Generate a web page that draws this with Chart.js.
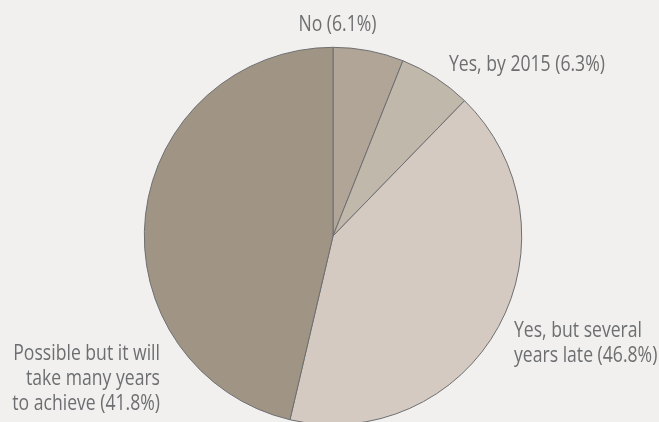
<!DOCTYPE html>
<html>
<head>
<meta charset="utf-8">
<script src="https://cdn.jsdelivr.net/npm/chart.js@4"></script>
<style>
  html, body { margin: 0; padding: 0; background: #f1f0ee; }
  #wrap { width: 659px; height: 422px; position: relative; }
</style>
</head>
<body>
<div id="wrap"><canvas id="pie"></canvas></div>
<script>
// slices, clockwise from 12 o'clock
const categories = ["No", "Yes, by 2015", "Yes, but several years late", "Possible but it will take many years to achieve"];
const shares = [6.1, 6.3, 41.8, 46.8];
const sliceColors = ["#b0a596", "#c1b8ac", "#d4cac1", "#a09585"];

// label text as printed on the figure
const labelLines = [
  ["No (6.1%)"],
  ["Yes, by 2015 (6.3%)"],
  ["Yes, but several", "years late (46.8%)"],
  ["Possible but it will", "take many years", "to achieve (41.8%)"]
];
// x, first baseline, alignment
const labelPos = [
  [337.5, 31, "center"],
  [449, 71, "left"],
  [514, 337, "left"],
  [160, 360, "right"]
];

// the original face is a condensed one, none is installed so squeeze a normal one
const FONT = "22px 'Open Sans', sans-serif";
const SQUEEZE = 0.8;

const labelPlugin = {
  id: "sliceLabels",
  afterDraw(chart) {
    const ctx = chart.ctx;
    ctx.save();
    ctx.font = FONT;
    ctx.fillStyle = "#6d6e71";
    ctx.textBaseline = "alphabetic";
    labelLines.forEach((lines, i) => {
      const [x, y, align] = labelPos[i];
      ctx.textAlign = align;
      lines.forEach((line, j) => {
        ctx.save();
        ctx.translate(x, y + j * 25);
        ctx.scale(SQUEEZE, 1);
        ctx.fillText(line, 0, 0);
        ctx.restore();
      });
    });
    ctx.restore();
  }
};

new Chart(document.getElementById("pie").getContext("2d"), {
  type: "pie",
  data: {
    labels: categories,
    datasets: [{
      data: shares,
      backgroundColor: sliceColors,
      borderColor: "#6d6e70",
      borderWidth: 1,
      radius: 188.7
    }]
  },
  options: {
    responsive: true,
    maintainAspectRatio: false,
    animation: false,
    layout: { padding: { left: 7, right: 0, top: 50, bottom: 0 } },
    plugins: {
      legend: { display: false },
      tooltip: { enabled: false }
    }
  },
  plugins: [labelPlugin]
});
</script>
</body>
</html>
